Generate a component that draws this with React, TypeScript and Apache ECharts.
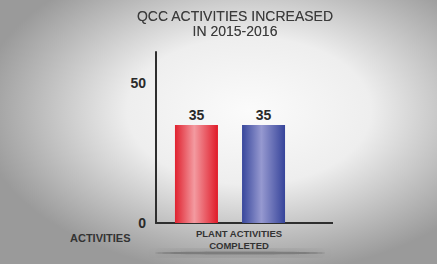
import React, { useEffect, useRef } from "react";
import * as echarts from "echarts";

const titleLines = ["QCC ACTIVITIES INCREASED", "IN 2015-2016"];
const categories = ["PLANT ACTIVITIES\nCOMPLETED"];
const seriesNames = ["Before", "After"];
const seriesValues = [[35], [35]];
const yTicks = [0, 50];
const yAxisTitle = "ACTIVITIES";

export default function App() {
  const ref = useRef<HTMLDivElement>(null);
  useEffect(() => {
    document.body.style.margin = "0";
    const chart = echarts.init(ref.current!, null, { renderer: "svg" });
    const redGrad = new echarts.graphic.LinearGradient(0, 0, 1, 0, [
      { offset: 0, color: "#e0222f" },
      { offset: 0.45, color: "#f39aa0" },
      { offset: 1, color: "#e01a28" },
    ]);
    const blueGrad = new echarts.graphic.LinearGradient(0, 0, 1, 0, [
      { offset: 0, color: "#38479c" },
      { offset: 0.45, color: "#9699d0" },
      { offset: 1, color: "#36449a" },
    ]);
    const grads = [redGrad, blueGrad];
    chart.setOption({
      animation: false,
      backgroundColor: {
        type: "radial",
        x: 0.57,
        y: 0.42,
        r: 0.62,
        colorStops: [
          { offset: 0, color: "#fbfbfb" },
          { offset: 0.45, color: "#eeeeee" },
          { offset: 1, color: "#9a9a9a" },
        ],
      },
      title: {
        text: titleLines.join("\n"),
        left: 230,
        textAlign: "center",
        top: 3,
        textStyle: {
          fontFamily: "Liberation Sans",
          fontSize: 14,
          fontWeight: "normal",
          color: "#3a3a3a",
          lineHeight: 15,
          textShadowColor: "rgba(60,60,60,0.5)",
          textShadowBlur: 1,
        },
      },
      grid: { left: 156, right: 133, top: 52, bottom: 41 },
      xAxis: {
        type: "category",
        data: categories,
        axisLine: { lineStyle: { color: "#2e2e2e", width: 2 } },
        axisTick: { show: false },
        axisLabel: {
          color: "#333",
          fontSize: 9.5,
          fontWeight: "bold",
          fontFamily: "Liberation Sans",
          lineHeight: 12,
          margin: 4,
          padding: [0, 0, 0, 18],
        },
      },
      yAxis: {
        type: "value",
        min: 0,
        max: 61,
        interval: 50,
        splitLine: { show: false },
        axisTick: { show: false },
        axisLine: { show: true, lineStyle: { color: "#2e2e2e", width: 2 } },
        axisLabel: {
          showMaxLabel: false,
          color: "#2a2a2a",
          fontSize: 14,
          fontWeight: "bold",
          fontFamily: "Liberation Sans",
          margin: 10,
          formatter: (v: number) => (yTicks.includes(v) ? String(v) : ""),
        },
      },
      graphic: [
        {
          type: "line",
          shape: { x1: 303, y1: 223, x2: 333, y2: 223 },
          style: { stroke: "#2e2e2e", lineWidth: 2 },
          z: 10,
        },
        {
          type: "ellipse",
          shape: { cx: 240, cy: 253, rx: 85, ry: 1.5 },
          style: {
            fill: "rgba(80,80,80,0.45)",
            shadowBlur: 10,
            shadowColor: "rgba(40,40,40,0.7)",
          },
          z: 1,
        },
        {
          type: "text",
          left: 70,
          top: 232,
          style: {
            text: yAxisTitle,
            fontSize: 11,
            fontWeight: "bold",
            fontFamily: "Liberation Sans",
            fill: "#333",
          },
        },
      ],
      series: seriesNames.map((name, i) => ({
        name,
        type: "bar",
        data: seriesValues[i],
        barWidth: 43,
        barGap: "56%",
        itemStyle: { color: grads[i] },
        label: {
          show: true,
          position: "top",
          distance: 3,
          color: "#2a2a2a",
          fontSize: 14,
          fontWeight: "bold",
          fontFamily: "Liberation Sans",
        },
      })),
    });
    return () => chart.dispose();
  }, []);
  return (
    <div
      ref={ref}
      style={{ position: "absolute", left: 0, top: 0, width: 437, height: 264 }}
    />
  );
}
